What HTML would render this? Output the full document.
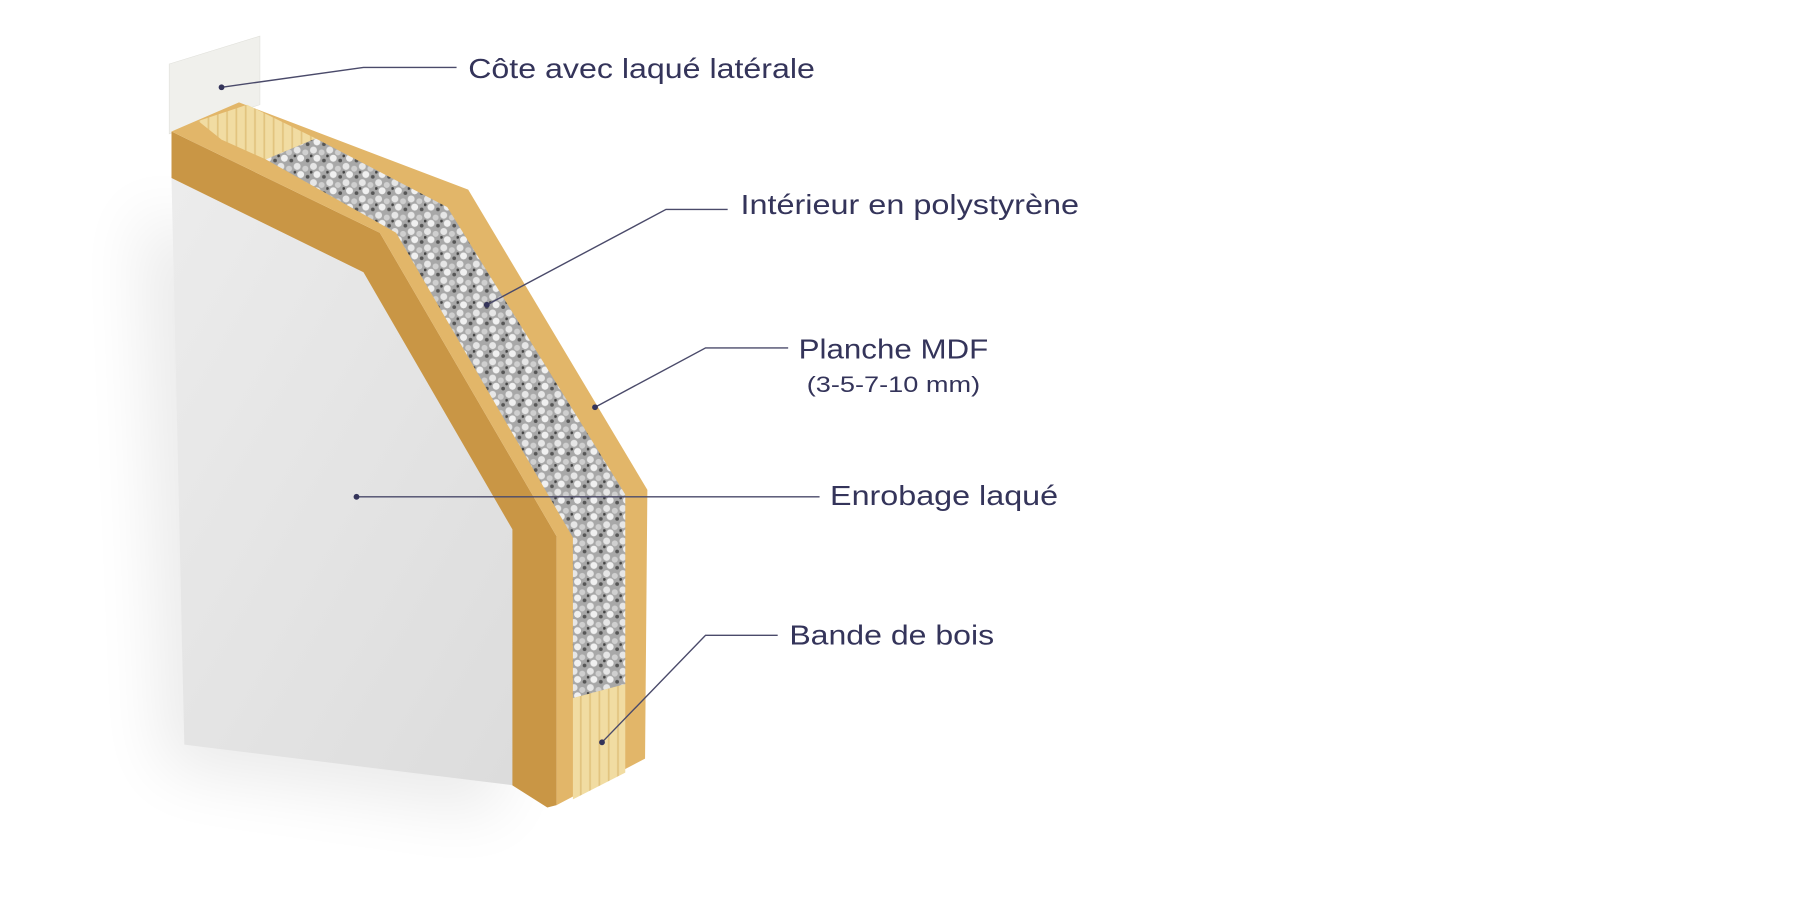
<!DOCTYPE html>
<html><head><meta charset="utf-8"><style>
html,body{margin:0;padding:0;background:#fff;}
svg{display:block;}
text{font-family:"Liberation Sans",sans-serif;fill:#34345a;}
</style></head><body>
<svg width="1816" height="918" viewBox="0 0 1560 789" xmlns="http://www.w3.org/2000/svg">
<defs>
<filter id="blur" x="-50%" y="-50%" width="200%" height="200%"><feGaussianBlur stdDeviation="28"/></filter>
<pattern id="poly" width="14" height="14" patternUnits="userSpaceOnUse">
<rect width="14" height="14" fill="#a8a8a8"/>
<circle cx="3" cy="3" r="3" fill="#e6e6e6"/>
<circle cx="10" cy="5" r="2.6" fill="#cfcfcf"/>
<circle cx="6" cy="10" r="3" fill="#f0f0f0"/>
<circle cx="12" cy="12" r="1.6" fill="#555"/>
<circle cx="1" cy="8" r="1.2" fill="#444"/>
</pattern>
<pattern id="pine" width="8" height="40" patternUnits="userSpaceOnUse">
<rect width="8" height="40" fill="#f1dca2"/>
<rect x="2" width="1.5" height="40" fill="#e2c47f"/>
</pattern>
<linearGradient id="wg" x1="0" y1="0" x2="1" y2="1">
<stop offset="0" stop-color="#ececec"/><stop offset="1" stop-color="#dcdcdc"/>
</linearGradient>
</defs>
<polygon points="120,180 300,260 430,480 430,700 140,660" fill="#000" opacity="0.08" filter="url(#blur)"/>
<polygon points="145,55 223,31 223,90 145,115" fill="#f0f0ec" stroke="#e0e0da" stroke-width="0.5"/>
<polygon points="147,153 312,234 441,455 441,675 158,640" fill="url(#wg)"/>
<polygon points="147,113 326,200 478,461 478,692 470,694 440,675 440,455 312,234 147,153" fill="#c99645"/>
<polygon points="147,113 205,88 402,163 556,421 554,652 478,692 478,461 326,200" fill="#e2b669"/>
<polygon points="170,104 212,90 271,119 228,137 190,120" fill="url(#pine)"/>
<polygon points="228,137 271,119 384,178 537,425 537,588 492,600 492,462 340,200" fill="url(#poly)"/>
<polygon points="492,600 537,588 537,664 492,687" fill="url(#pine)"/>
<g stroke="#4a4a6a" stroke-width="1.2" fill="none">
<polyline points="190,75 312,58 392,58"/>
<polyline points="418,262 572,180 625,180"/>
<polyline points="511,350 606,299 677,299"/>
<polyline points="306,427 704,427"/>
<polyline points="517,638 606,546 668,546"/>
</g>
<g fill="#34345a">
<circle cx="190" cy="75" r="2.5"/><circle cx="418" cy="262" r="2.5"/><circle cx="511" cy="350" r="2.5"/><circle cx="306" cy="427" r="2.5"/><circle cx="517" cy="638" r="2.5"/>
</g>
<text x="402" y="67" font-size="24" textLength="298" lengthAdjust="spacingAndGlyphs">Côte avec laqué latérale</text>
<text x="636" y="184" font-size="24" textLength="291" lengthAdjust="spacingAndGlyphs">Intérieur en polystyrène</text>
<text x="686" y="308" font-size="24" textLength="163" lengthAdjust="spacingAndGlyphs">Planche MDF</text>
<text x="693" y="337" font-size="19" textLength="149" lengthAdjust="spacingAndGlyphs">(3-5-7-10 mm)</text>
<text x="713" y="434" font-size="24" textLength="196" lengthAdjust="spacingAndGlyphs">Enrobage laqué</text>
<text x="678" y="554" font-size="24" textLength="176" lengthAdjust="spacingAndGlyphs">Bande de bois</text>
</svg>
</body></html>
